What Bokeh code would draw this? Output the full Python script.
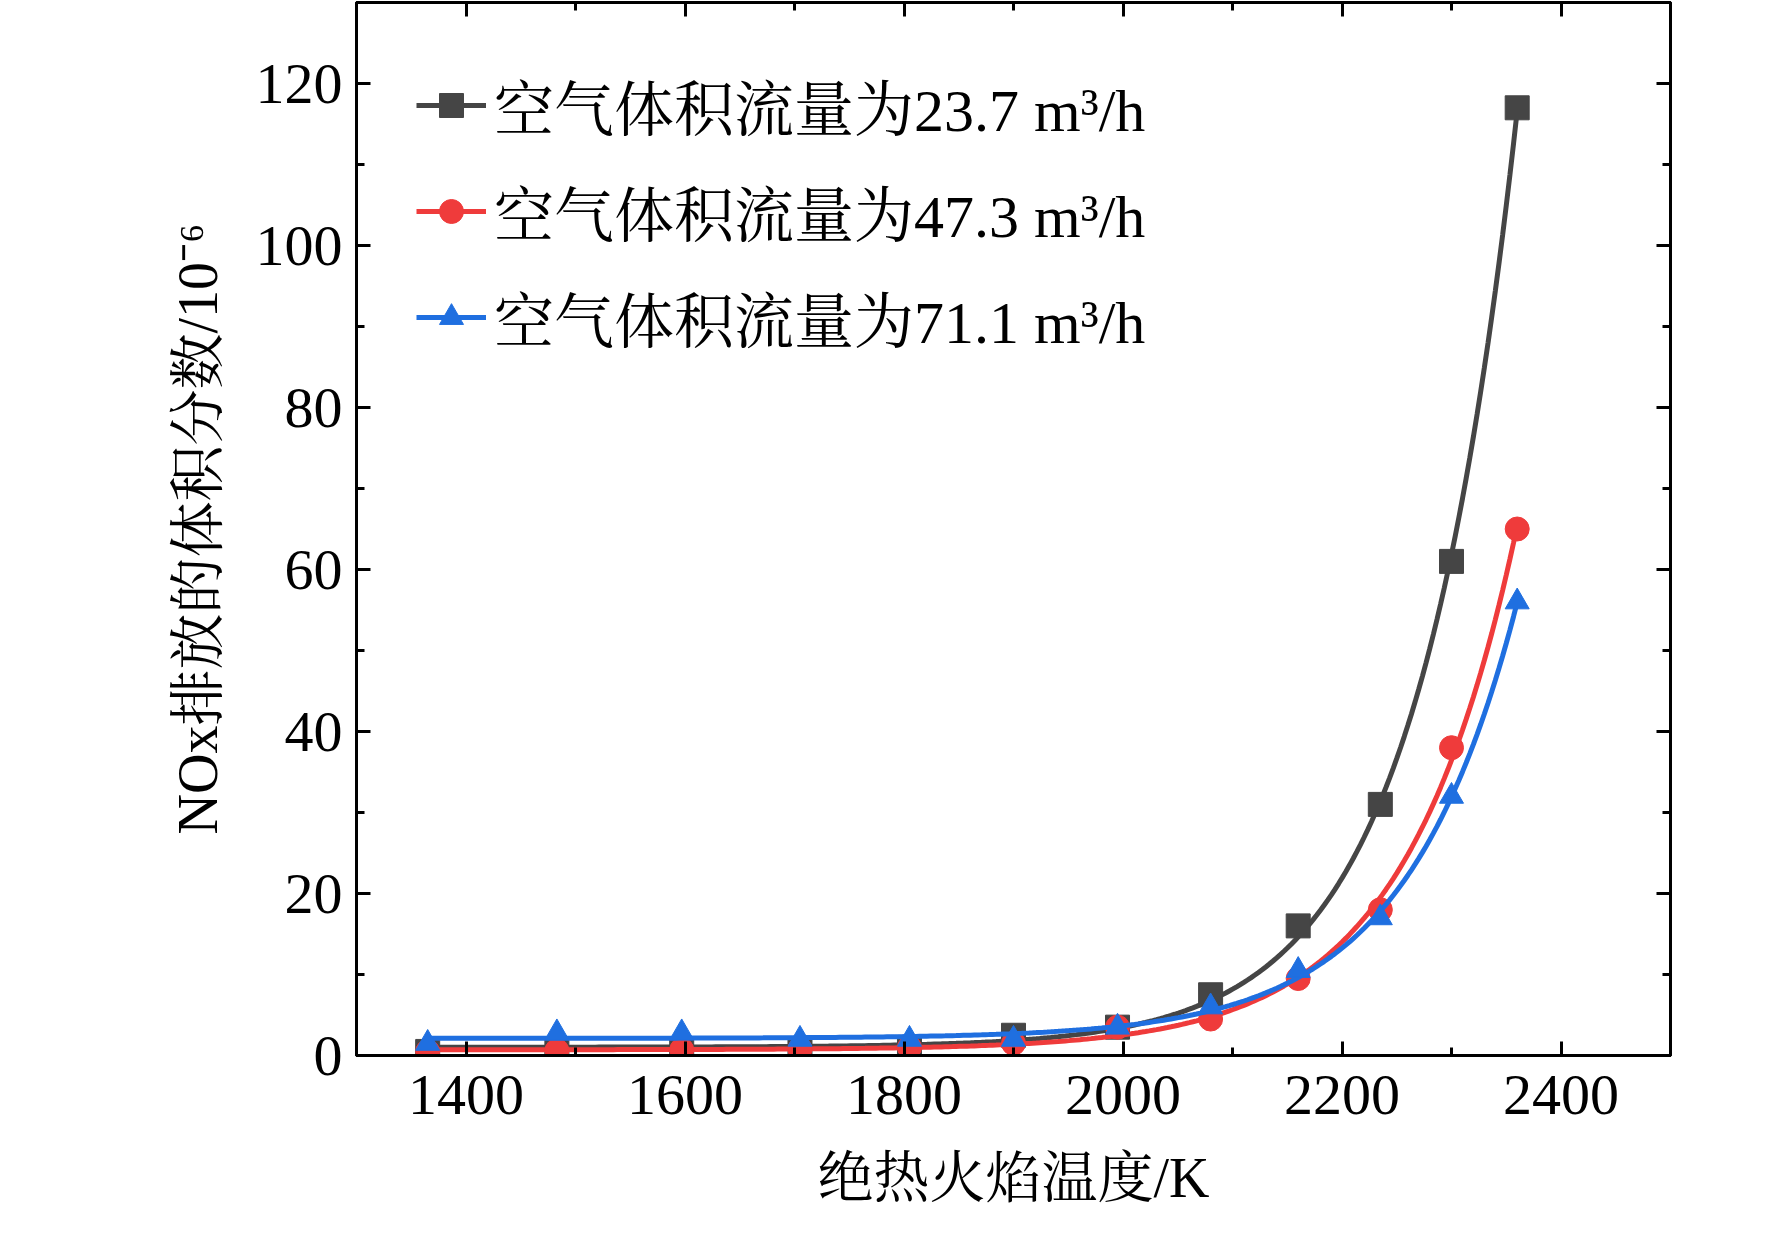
import numpy as np
from bokeh.plotting import figure
from bokeh.models import Range1d, LinearAxis, Legend, LegendItem, FixedTicker
from bokeh.embed import file_html
from bokeh.resources import INLINE

temps = [1365, 1483, 1597, 1705, 1805, 1900, 1995, 2080, 2160, 2235, 2300, 2360]
black = [0.5, 0.6, 0.7, 0.8, 1.0, 2.5, 3.5, 7.5, 16, 31, 61, 117]
red = [0.5, 0.6, 0.7, 0.8, 1.0, 1.5, 3.5, 4.5, 9.5, 18, 38, 65]
blue = [1.5, 2.8, 2.8, 2.0, 2.0, 2.0, 3.5, 6.0, 10.5, 17, 32, 56]
labels = ["空气体积流量为23.7 m³/h", "空气体积流量为47.3 m³/h", "空气体积流量为71.1 m³/h"]
colors = ["#454545", "#ef3b3b", "#1f6fe0"]
markers = ["square", "circle", "triangle"]

FONT = "Liberation Serif, Noto Serif CJK SC, Noto Sans CJK SC"

def fit(x, y):
    x = np.array(x, float); y = np.array(y, float)
    best = None
    for t in np.linspace(30, 200, 400):
        M = np.vstack([np.ones_like(x), np.exp((x - 2360) / t)]).T
        c, *_ = np.linalg.lstsq(M, y, rcond=None)
        r = np.sum((M @ c - y) ** 2)
        if best is None or r < best[0]:
            best = (r, t, c)
    _, t, c = best
    xs = np.linspace(x.min(), x.max(), 300)
    return xs, c[0] + c[1] * np.exp((xs - 2360) / t)

p = figure(width=1756, height=1215, output_backend="svg", toolbar_location=None,
           x_range=Range1d(1300, 2500), y_range=Range1d(0, 130),
           min_border_left=356, min_border_right=86, min_border_top=2, min_border_bottom=160)
p.grid.visible = False
p.outline_line_color = "black"
p.outline_line_width = 3
p.background_fill_color = "white"

items = []
for ys, col, mk, lab in zip([black, red, blue], colors, markers, labels):
    xs, yf = fit(temps, ys)
    l = p.line(xs, yf, line_color=col, line_width=5)
    s = p.scatter(temps, ys, marker=mk, size=24, color=col)
    items.append(LegendItem(label=lab, renderers=[l, s]))

leg = Legend(items=items, location="top_left", margin=60, border_line_color=None,
             background_fill_alpha=0, label_text_font=FONT, label_text_color="black",
             label_text_font_size="60px", glyph_width=70, glyph_height=60,
             spacing=20, label_standoff=8, padding=10)
p.add_layout(leg, "center")

def style(ax, labels=True):
    ax.major_tick_in = 14; ax.major_tick_out = 0
    ax.minor_tick_in = 8; ax.minor_tick_out = 0
    ax.axis_line_width = 3; ax.major_tick_line_width = 3; ax.minor_tick_line_width = 3
    ax.major_label_text_font = FONT
    ax.major_label_text_font_size = "58px"
    ax.major_label_text_color = "black"
    ax.axis_label_text_font = FONT
    ax.axis_label_text_font_size = "56px"
    ax.axis_label_text_color = "black"
    ax.axis_label_text_font_style = "normal"
    if not labels:
        ax.major_label_text_font_size = "0px"

xt = FixedTicker(ticks=[1400, 1600, 1800, 2000, 2200, 2400], minor_ticks=list(range(1300, 2501, 100)))
yt = FixedTicker(ticks=list(range(0, 121, 20)), minor_ticks=list(range(0, 131, 10)))
p.xaxis.ticker = xt
p.yaxis.ticker = yt
style(p.xaxis[0]); style(p.yaxis[0])
p.xaxis.axis_label = "绝热火焰温度/K"
p.yaxis.axis_label = "NOx排放的体积分数/10⁻⁶"
p.xaxis.major_label_standoff = 20
p.yaxis.major_label_standoff = 14
p.xaxis.axis_label_standoff = 30
p.yaxis.axis_label_standoff = 24

top = LinearAxis(ticker=xt); style(top, False); p.add_layout(top, "above")
right = LinearAxis(ticker=yt); style(right, False); p.add_layout(right, "right")

open("out.html", "w").write(file_html(p, INLINE))
